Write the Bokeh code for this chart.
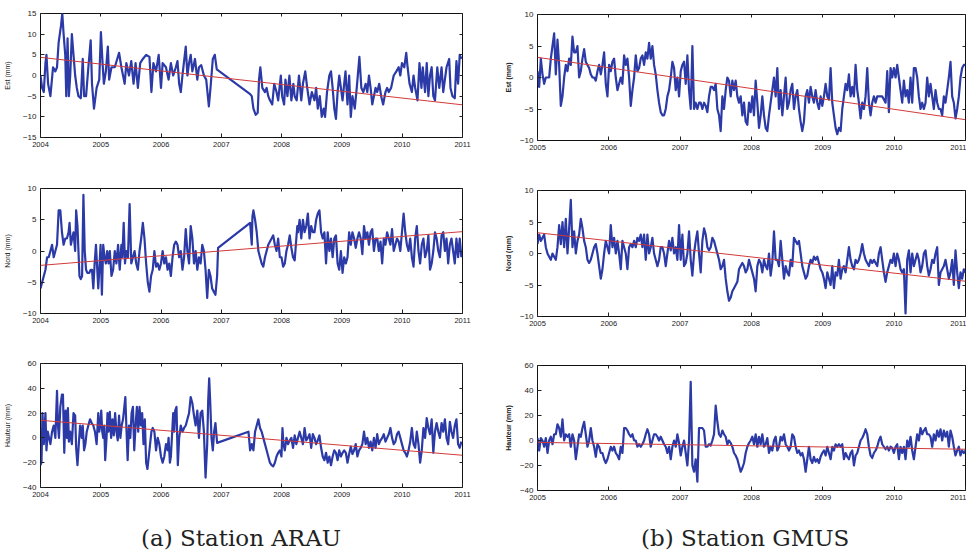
import numpy as np
from bokeh.plotting import figure
from bokeh.layouts import row, column
from bokeh.models import LinearAxis, FixedTicker, Range1d, Div
from bokeh.embed import file_html
from bokeh.resources import INLINE

# ---------------- Station ARAU (days since 2004-01-01) ----------------
arau_est_day = [0,10,20,30,36,46,60,76,90,100,110,124,132,140,150,156,164,172,180,190,
    200,210,220,230,244,256,264,276,290,304,312,324,340,356,366,376,384,396,408,416,
    430,450,476,490,510,520,536,550,564,576,590,604,620,640,660,672,684,700,716,730,
    740,760,776,790,804,820,830,840,850,860,880,890,900,910,920,936,950,960,974,990,
    1004,1020,1030,1044,1056,1068,
    1270,1280,1290,1304,1316,1324,1332,1344,1360,1370,1380,1390,1404,1416,1430,1440,1456,1464,1476,1484,
    1496,1508,1520,1532,1540,1552,1566,1580,1590,1604,1616,1630,1644,1660,1670,1680,1692,1704,1716,1724,
    1736,1750,1760,1770,1780,1790,1800,1810,1820,1830,1840,1848,1860,1870,1880,1890,1904,1916,1932,1944,
    1956,1970,1980,1990,2000,2010,2020,2030,2040,2052,2064,2076,2090,2100,2110,2124,2140,2156,2170,2180,
    2190,2204,2216,2224,2236,2250,2260,2270,2284,2296,2308,2316,2330,2340,2350,2360,2370,2380,2390,2404,
    2416,2430,2440,2450,2460,2476,2484,2496,2510,2520,2530,2540,2550]
arau_est_mm = [0,-3,-4,3,5,-2,-5,2,1,2,8,12,15,10,5,-5,9,-5,0,10,
    5,0,-3,-5,-5.5,4,-5,-5,2,8.5,-2,-8,-3,-1,10.5,3,-2,1,7,-1,
    2,2,5.5,2,-2,3,0,3.5,-2,3,-3,3,4,5,4.5,-4,3,1,5,-3,
    3,2,-1,3,0,2,3.5,-2,-4,0,7,0,3,5,1,4,-1,2,2.5,0,
    -1,-7.5,-3,4,5,1.5,
    -4.5,-5,-8,-9.5,-9,-1,2,-3,-4,-3,-5,-6,-7,-2,-4,-6,0,-5,-7,-1,
    -5,0,-6,-2,-5,-6,0,-6,-2,1,-3,-7,-4,-6,-3,-8,-5,-10,-8,-10,
    -4,0,1,-3,-8,-10.5,-4,0,-3,-6,-2,1,-7,0,-10,-5,-8,-3,4.5,-3,
    -4,-2,-4,0,-3,-7,-5,-3,-4,-2,-5,-7,-4,-3,-4,-3,0,1,2,0,
    3,2,5.5,2,-2,-4,0,-3,-6,3,-3,2,-4,3,-5,0,2,-5,-6,2,
    -3,2,-4,-1,2,4,-3,-5,-5.5,3.5,-2,5,4]

arau_nord_day = [0,10,20,30,40,50,60,70,80,90,100,110,120,130,140,150,160,170,176,184,
    192,200,210,216,224,230,236,244,252,260,268,276,284,296,304,312,320,328,336,344,
    350,356,364,372,380,388,396,404,412,420,430,440,450,460,470,480,490,496,504,512,
    520,530,540,550,560,570,580,590,600,610,620,630,640,650,660,670,680,690,700,710,
    720,730,740,750,760,770,780,790,800,810,820,830,840,850,860,870,880,890,900,910,
    920,930,940,950,960,970,980,990,1000,1010,1020,1030,1040,1050,1060,1070,
    1076,1270,1280,1284,1290,1300,1310,1320,1330,1340,1350,1360,1370,1380,1400,
    1410,1420,1430,1440,1450,1460,1470,1480,1490,1500,1510,1520,1530,1540,1550,
    1556,1560,1570,
    1580,1590,1600,1610,1620,1630,1640,1650,1660,1670,1680,1690,1700,1710,1720,1730,1740,1750,1760,1770,
    1780,1790,1800,1810,1820,1830,1840,1850,1860,1870,1880,1890,1900,1910,1920,1930,1940,1950,1960,1970,
    1980,1990,2000,2010,2020,2030,2040,2050,2060,2070,2080,2090,2100,2110,2120,2130,2140,2150,2160,2170,
    2180,2190,2200,2210,2220,2230,2240,2250,2260,2270,2280,2290,2300,2310,2320,2330,2340,2350,2360,2370,
    2380,2390,2400,2410,2420,2430,2440,2450,2460,2470,2480,2490,2500,2510,2520,2530,2540,2550]
arau_nord_mm = [-6,-5,-4,-3,-1,-1,0,1,-1,0,1,6.5,6.5,3,1,2,2,3,4.5,1,
    2,3,0,6.5,4,0,-4,-4.5,-4,9,0,-3,-3.5,-3.5,-3,-3,-6,-2,1,-3,
    -6,-3,1,-7,1,-1,-2,0,-2,0,-4,-3,0,-2,1,-3,1,-1,4.5,-2,
    0,-1,7.5,-2,-1,0,-2,-3,0,2,4.5,2,-2,-5,-6.5,-4,-3,0,-2.5,-2,
    -3,-2,0,-2,-1,-3,-2,-4,-1,1,1.5,1,-1,0,-3,-1,3.5,0,-2,4,
    2,-2,0,-3,-1,-2,1,0,-3,-7.5,-3,-4,-6,-6.5,-7,-4,
    0.5,4.5,1,5.5,6.5,5,3,0,-1,-2,-2.5,-1,0,1,2,
    2.5,1,0,2,-1,-1,-2.5,-2,0,1,2.5,0.5,-1,-1.5,2,
    4,3,5,
    2,5,3,4,6,2,4,3,3,5,6,6.5,3,2,3,-2,3,0,2,-1,
    2,2.5,-2,-3,0,-3.5,-1,-2,-1,3,1,3,2,0.5,2,3,2,-0.5,4,2,
    3,1,3,3.5,0,2,2,0,1.5,-2,2,1,3,2,1,3.5,0,1,2,1.5,
    0,3,6,3,1,0,2,-1,-2.5,2,4,0,-2,1,2,-1,0,2.5,-3,-2,
    0,3,2,0,-1,2.5,3,0,2,-2,1,2,0,-2,2,-1,2,-1]

arau_haut_day = [0,6,12,20,30,36,44,52,60,70,80,90,100,106,112,120,130,136,144,152,
    160,166,172,180,190,200,210,216,224,232,240,250,256,264,272,280,290,300,310,320,
    330,340,350,356,362,368,374,380,386,392,400,406,412,420,428,436,444,452,460,468,
    476,484,492,500,508,514,520,528,536,544,552,560,568,576,584,592,600,608,616,624,
    632,640,648,656,664,672,680,690,700,710,720,730,740,750,760,770,776,784,790,796,
    804,810,816,824,832,840,850,860,870,880,890,900,910,920,930,940,950,960,970,980,
    990,1000,1010,1016,1022,1028,1036,1044,1052,1060,1070,1260,
    1270,1280,1290,1300,1310,1320,1330,1340,1350,1360,1370,1380,1390,1400,1410,1420,1430,1440,1450,1460,
    1466,1472,
    1480,1490,1500,1510,1520,1530,1540,1550,1560,1570,1580,1590,1600,1610,1620,1630,1640,1650,1660,1670,
    1680,1690,1700,1710,1720,1730,1740,1750,1760,1770,1780,1790,1800,1810,1820,1830,1840,1850,1860,1870,
    1880,1890,1900,1910,1920,1930,1940,1950,1960,1970,1980,1990,2000,2010,2020,2030,2040,2050,2060,2070,
    2080,2090,2100,2110,2120,2130,2140,2150,2160,2170,2180,2190,2200,2210,2220,2230,2240,2250,2260,2270,
    2280,2290,2300,2310,2320,2330,2340,2350,2360,2370,2380,2390,2400,2410,2420,2430,2440,2450,2460,2470,
    2480,2490,2500,2510,2520,2530,2540,2550]
arau_haut_mm = [-22,-20,20,-5,20,-10,5,0,-5,5,10,0,38,10,0,25,35,35,-12,22,
    0,24,-3,5,-5,20,18,-8,-22,-5,10,0,10,-10,-5,5,10,15,12,10,
    5,-5,20,5,10,22,5,0,10,-18,0,20,5,21,0,15,2,20,5,-2,
    18,0,10,15,25,33,10,-18,10,0,20,25,-10,10,25,5,25,10,20,-5,
    15,-20,-25,-15,-5,5,8,5,-10,0,-5,-15,-20,-15,-5,-10,0,-20,-15,0,
    20,5,22,25,-22,0,10,5,8,10,15,20,33,28,18,10,22,0,20,22,
    5,-32,-5,30,48,30,0,-10,5,12,-4,5,
    -10,-5,-10,5,10,15,8,5,0,-5,-10,-15,-20,-22,-23,-20,-15,-12,-10,-15,
    8,-5,
    -10,0,-5,-2,0,-8,2,-5,0,5,0,-5,8,-2,0,3,-8,3,0,-5,
    -2,2,-8,-15,-18,-12,-20,-15,-22,-15,-10,-12,-18,-10,-15,-12,-10,-12,-20,-13,
    -7,-13,-10,-5,-15,-10,-8,-5,5,-5,0,-8,-3,-10,0,-8,3,-5,-2,0,
    3,-3,0,3,8,0,-5,-3,3,5,0,-5,-10,-12,-15,-10,-3,8,-5,-8,
    5,-5,-20,-10,8,0,16,8,3,15,-12,5,12,5,0,12,5,15,0,-5,
    13,5,0,10,15,-5,-8,-3]

# ---------------- Station GMUS (regular samples from 2005-01-01) ----------------
gmus_start_year = 2005
gmus_sample_years = 6 / 257  # about 8.5 days between samples

gmus_est_mm = [1,-1.5,3,0.5,-1,0,0,0,3,5, 7,0.5,6,2,-4.5,-3,0,2,1,3,
    2,6.5,4,4,5,0,1,3,4.5,2.5, 2,1.5,0.5,0,0,-0.5,1,2,0.5,2,
    4,-1,-3,2,1,2.5,3,0,-2,-1, 0,-1,3.5,2,3,0,-4.5,-2,0,3.5,
    1,1.5,3,3.5,2,4,3,5.5,3,5, 2,0.5,-2,-4,-5.5,-6,-6,-5,-3,-2,
    0,2.5,1.5,-2,0,-3,1,2,2.5,-1, 3.5,-2,-5,5,-5,-4,-5,-4,-4,-5,
    -4,-4.5,-5.5,-3,-1.5,-1.5,-2,-1,-5,-6, -8.5,-3,-5,-2,0,-0.5,-3,-0.5,-2,-0.5,
    -3,-4,-3,-6,-4,-7,-7.5,-4,-5.5,-3, -6,-0.5,-4,-8,-6,-3,-6,-8,-8.5,-6,
    -4,-2,0,-3,1.5,-5,-2,-6,-3,0, -5,-4,-2,-1,-5,-3,-2,-5,-7,-8.5,
    -7,-3,-2,-4,-1.5,-3,-4,-2,-4,-5, -3,-4.5,-3,-1,-3,-3.5,1.5,-4,-6,-8,
    -9,-8,-8.5,-5,-3,-1,-2,0.5,-3,-1.5, -3,2,-2,-4,-6.5,-4,-5,-3,1.5,-4,
    -6,-4,-3,-4,-3,-3,-3,-3,-3.5,-4, 1,-5.5,1.5,0,1.5,0,2,0,-2,-4,
    -0.5,-3,-2,-4,0,-4,1.5,1.5,0,-3, -5,-4,-5,-4,0,-3,-1,-3,-5,-2,
    -4,-5,-5,-6,-3,-4,-2,0,2.5,-3, -4,-6.5,-5,-3,0,1.5,2,2]

gmus_nord_mm = [1.5,3,2,2.5,3,1,0,-0.5,-1,0, -0.5,-1,1,4.5,1.5,5,1,5.5,0,4,
    8.5,1,3.5,0,2,3,5.5,4,2,1, -1,-1.5,-1,0,1,1.5,0,-2,-4,-2.5,
    0,2,1,0,4.5,1,2.5,0,2,0, -2.5,2,1,0,-2.5,1,1.5,1,2,1,
    2.5,2,3,1,3,-1,3,0,1,2.5, 0,-1,-2,-1,1,1,0,-2,0,2,
    0.5,2.5,0,1,-1,4.5,-1,3,-2,-1.5, 0,3.5,-1,-3.5,0,2,3.5,0,-3,2,
    4,3,1,0.5,1,2.5,2,1,0,-1, -2.5,-2,-1,-4,-6,-7.5,-7,-6,-5.5,-5,
    -4.5,-2.5,-2,-1.5,-2,-3,-2.5,-1,-2,-3, -4,-6,-2,-1,-1.5,-3,-1,-2,-2.5,0,
    -3.5,-1.5,3.5,-1,-1,-2,2,-1,-4,-2, -3,-3.5,-1,-2,2.5,2,1.5,2,0,-2,
    -3,-4,-3.5,-2,-1,-1.5,-0.5,-1,-0.5,-1.5, -2.5,-3,-4,-5.5,-3,-4,-5,-2,-5.5,-3,
    -3.5,-1,-4,-2.5,-2,-3,-1,1,-1,-2, -2.5,-1,-1.5,-1,0,1.5,0,-1,-1.5,-2,
    -1,-1.5,-1,-1.5,-2,0,1,-1,-3,-4.5, -3,-2,-1,-1.5,0,-2,0,-1,-2.5,-3,
    -2.5,-9.5,-1,0.5,-3,0,-2,-1,0,-1, -3,-2,0,0.5,-2,-3.5,-2.5,-1,-1.5,0,
    1,-5,-3,-2.5,-2,-1,-2.5,-4,-3,-1, -5,0.5,-3,-5.5,-3,-4,-2.5,-3]

gmus_haut_mm = [2,-8,2,0,-5,2,-10,0,3,-3, 5,5,13,10,3,17,0,5,3,5,
    -5,5,0,-15,-5,5,3,10,15,5, -5,0,10,0,-5,-13,-3,-5,-10,-10,
    -15,-18,-15,-10,-5,-8,-5,-10,-12,-15, -5,-10,10,10,8,5,3,5,0,0,
    -5,-3,-5,-3,0,5,9,5,-5,0, 5,5,3,0,3,0,-3,-5,-10,-5,
    -15,-5,0,-5,5,-2,-12,-5,0,-10, -20,0,47,-20,-25,-15,-33,10,10,10,
    8,-5,-5,-3,-4,0,5,28,15,5, 3,8,5,3,-3,0,-2,-5,-10,-12,
    -15,-20,-25,-22,-18,-10,-5,-2,0,3, -3,5,-5,3,-3,5,-5,-3,2,-10,
    -5,-8,0,3,-8,-5,3,0,5,-3, -5,-8,-5,5,3,-5,-10,-8,-12,-10,
    -15,-25,-15,-5,-15,-18,-13,-17,-15,-18, -13,-10,-8,-12,-5,-10,-15,-5,-8,-3,
    -5,-3,-5,-3,-15,-10,-13,-15,-10,-8, -20,-12,-10,-5,0,2,5,9,5,-5,
    -12,-14,-10,-8,-5,0,3,-3,-5,-7, -5,-8,-5,-6,-10,-5,-3,-15,-5,-10,
    -5,-15,0,-5,3,-8,-15,-5,5,0, 10,5,8,10,5,5,3,-5,5,0,
    8,3,9,0,8,3,7,-5,8,3, -5,-12,-8,-5,-12,-8,-10,-8]

# ---------------- Linear trends (end points) ----------------
arau_trend_year = [2004, 2011]
arau_est_trend = [4.4, -7.1]
arau_nord_trend = [-2.3, 3.1]
arau_haut_trend = [14.2, -14.0]
gmus_trend_year = [2005, 2011]
gmus_est_trend = [3.2, -6.7]
gmus_nord_trend = [3.3, -4.4]
gmus_haut_trend = [-1.5, -7.0]

arau_years = [2004, 2005, 2006, 2007, 2008, 2009, 2010, 2011]
gmus_years = [2005, 2006, 2007, 2008, 2009, 2010, 2011]
est_ticks_arau = [-15, -10, -5, 0, 5, 10, 15]
pm10_ticks = [-10, -5, 0, 5, 10]
haut_ticks = [-40, -20, 0, 20, 40, 60]

captions = ["(a) Station ARAU", "(b) Station GMUS"]

BLUE = "#2b3aa6"
RED = "#d23a3a"
FONT = "Liberation Sans"


def to_years(year0, days):
    return [year0 + d / 365.25 for d in days]


def panel(x, y, tx, ty, xr, yr, xticks, yticks, ylabel, w, h, bl, br, bt, bb,
          label_standoff=8, label_bold=False):
    n = min(len(x), len(y))
    p = figure(width=w, height=h, x_range=Range1d(*xr), y_range=Range1d(*yr),
               output_backend="svg", toolbar_location=None,
               min_border_left=bl, min_border_right=br,
               min_border_top=bt, min_border_bottom=bb)
    p.grid.visible = False
    p.background_fill_color = "white"
    p.border_fill_color = "white"
    p.outline_line_color = "#111111"
    p.outline_line_width = 1
    p.outline_line_alpha = 1

    p.line(x[:n], y[:n], color=BLUE, line_width=2.2, line_join="round")
    p.line(tx, ty, color=RED, line_width=1)

    for ax in (p.xaxis[0], p.yaxis[0]):
        ax.axis_line_color = None
        ax.major_tick_in = 4
        ax.major_tick_out = 0
        ax.minor_tick_line_color = None
        ax.major_label_text_font = FONT
        ax.major_label_text_color = "#222222"
        ax.major_tick_line_color = "#222222"
    p.xaxis[0].major_label_text_font_size = "7.5px"
    p.yaxis[0].major_label_text_font_size = "8px"
    p.xaxis[0].ticker = FixedTicker(ticks=xticks)
    p.yaxis[0].ticker = FixedTicker(ticks=yticks)
    p.xaxis[0].major_label_standoff = 4
    p.yaxis[0].major_label_standoff = 4
    p.yaxis[0].axis_label = ylabel
    p.yaxis[0].axis_label_text_font = FONT
    p.yaxis[0].axis_label_text_font_size = "7px"
    p.yaxis[0].axis_label_text_font_style = "bold" if label_bold else "normal"
    p.yaxis[0].axis_label_text_color = "#222222"
    p.yaxis[0].axis_label_standoff = label_standoff

    for loc, ticks in (("above", xticks), ("right", yticks)):
        ax = LinearAxis(ticker=FixedTicker(ticks=ticks))
        ax.axis_line_color = None
        ax.major_tick_in = 3
        ax.major_tick_out = 0
        ax.minor_tick_line_color = None
        ax.major_label_text_font_size = "1px"
        ax.major_label_text_alpha = 0
        ax.major_label_standoff = 0
        ax.major_tick_line_color = "#222222"
        p.add_layout(ax, loc)
    return p


def caption_div(text, w, h):
    html = ('<div style="padding-top:15px;padding-left:141px;white-space:nowrap;'
            'font-family:\'DejaVu Serif\';font-size:23px;line-height:26px;color:#222;">'
            + text + '</div>')
    return Div(text=html, width=w, height=h, margin=0)


ax_arau = (2004, 2011)
ax_gmus = (2005, 2011)

arau_est_t = to_years(2004, arau_est_day)
arau_nord_t = to_years(2004, arau_nord_day)
arau_haut_t = to_years(2004, arau_haut_day)
gmus_t = [gmus_start_year + k * gmus_sample_years for k in range(len(gmus_est_mm))]

p1 = panel(arau_est_t, arau_est_mm, arau_trend_year, arau_est_trend, ax_arau, (-15, 15),
           arau_years, est_ticks_arau, "Est (mm)", 500, 175, 37, 38, 13, 38, 9)
p3 = panel(arau_nord_t, arau_nord_mm, arau_trend_year, arau_nord_trend, ax_arau, (-10, 10),
           arau_years, pm10_ticks, "Nord (mm)", 500, 175, 37, 38, 13, 37, 9)
p5 = panel(arau_haut_t, arau_haut_mm, arau_trend_year, arau_haut_trend, ax_arau, (-40, 60),
           arau_years, haut_ticks, "Hauteur (mm)", 500, 160, 37, 38, 13, 23, 9)
cap_a = caption_div(captions[0], 500, 44)

p2 = panel(gmus_t, gmus_est_mm, gmus_trend_year, gmus_est_trend, ax_gmus, (-10, 10),
           gmus_years, pm10_ticks, "Est (mm)", 466, 176, 37, 1, 14, 36, 5, True)
p4 = panel(gmus_t, gmus_nord_mm, gmus_trend_year, gmus_nord_trend, ax_gmus, (-10, 10),
           gmus_years, pm10_ticks, "Nord (mm)", 466, 176, 37, 1, 14, 36, 5, True)
p6 = panel(gmus_t, gmus_haut_mm, gmus_trend_year, gmus_haut_trend, ax_gmus, (-40, 60),
           gmus_years, haut_ticks, "Hauteur (mm)", 466, 158, 37, 1, 13, 20, 5, True)
cap_b = caption_div(captions[1], 466, 44)

layout = row(column(p1, p3, p5, cap_a), column(p2, p4, p6, cap_b))

with open("out.html", "w") as f:
    f.write(file_html(layout, INLINE))
